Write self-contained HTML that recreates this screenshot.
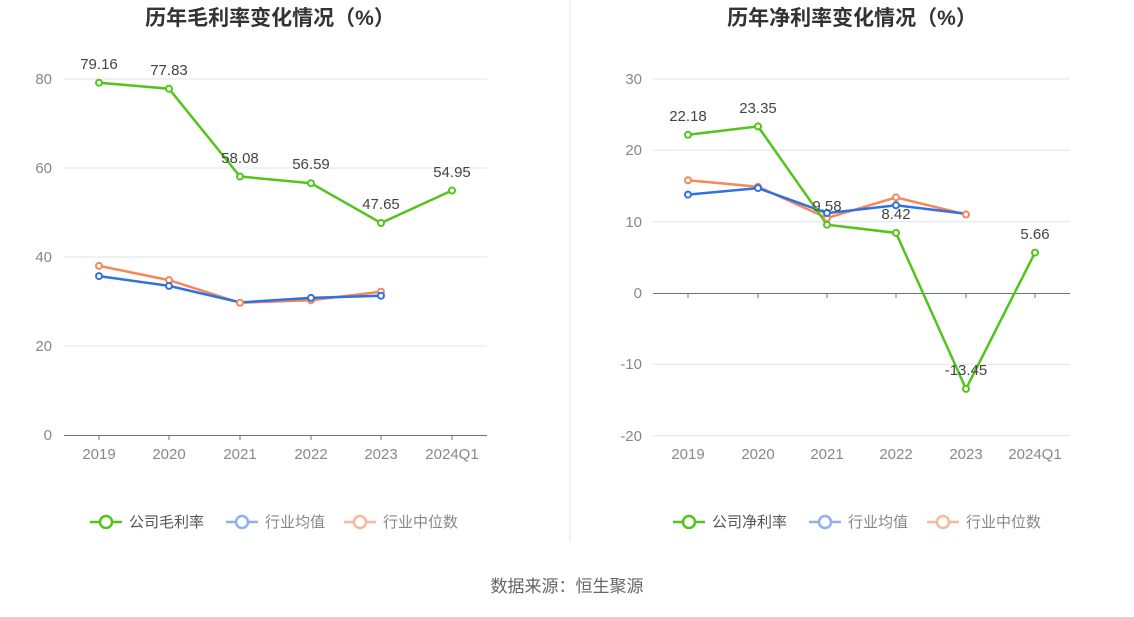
<!DOCTYPE html>
<html><head><meta charset="utf-8"><style>
body{margin:0;background:#fff;}
svg text{font-family:"Liberation Sans","Noto Sans CJK SC",sans-serif;}
</style></head><body>
<svg width="1134" height="612" xmlns="http://www.w3.org/2000/svg">
<rect width="1134" height="612" fill="#fff"/>
<line x1="570" y1="0" x2="570" y2="542" stroke="#e8e8e8"/>
<text x="270" y="25" text-anchor="middle" font-size="21" font-weight="bold" fill="#333">历年毛利率变化情况（%）</text>
<text x="852" y="25" text-anchor="middle" font-size="21" font-weight="bold" fill="#333">历年净利率变化情况（%）</text>
<!-- left grid -->
<g stroke="#e0e4ee" stroke-width="1">
<line x1="64" y1="79" x2="487" y2="79"/><line x1="64" y1="168" x2="487" y2="168"/><line x1="64" y1="257" x2="487" y2="257"/><line x1="64" y1="346" x2="487" y2="346"/>
</g>
<line x1="64" y1="435.5" x2="487" y2="435.5" stroke="#6e7079"/>
<g stroke="#6e7079"><line x1="99" y1="435" x2="99" y2="440"/><line x1="169" y1="435" x2="169" y2="440"/><line x1="240" y1="435" x2="240" y2="440"/><line x1="311" y1="435" x2="311" y2="440"/><line x1="381" y1="435" x2="381" y2="440"/><line x1="452" y1="435" x2="452" y2="440"/></g>
<g font-size="15" fill="#888" text-anchor="end">
<text x="52" y="84">80</text><text x="52" y="173">60</text><text x="52" y="262">40</text><text x="52" y="351">20</text><text x="52" y="440">0</text></g>
<g font-size="15" fill="#888" text-anchor="middle">
<text x="99" y="459">2019</text><text x="169" y="459">2020</text><text x="240" y="459">2021</text><text x="311" y="459">2022</text><text x="381" y="459">2023</text><text x="452" y="459">2024Q1</text></g>
<polyline fill="none" stroke="#f5875a" stroke-width="2.5" points="99,265.9 169,280.1 240,302.8 311,300.2 381,291.7"/>
<polyline fill="none" stroke="#3170e0" stroke-width="2.5" points="99,276.1 169,285.9 240,302.4 311,297.9 381,295.7"/>
<polyline fill="none" stroke="#52c41a" stroke-width="2.5" points="99,82.7 169,88.7 240,176.5 311,183.2 381,223 452,190.5"/>
<g fill="#fff" stroke-width="2">
<g stroke="#f5875a"><circle cx="99" cy="265.9" r="3"/><circle cx="169" cy="280.1" r="3"/><circle cx="240" cy="302.8" r="3"/><circle cx="311" cy="300.2" r="3"/><circle cx="381" cy="291.7" r="3"/></g>
<g stroke="#3170e0"><circle cx="99" cy="276.1" r="3"/><circle cx="169" cy="285.9" r="3"/><circle cx="311" cy="297.9" r="3"/><circle cx="381" cy="295.7" r="3"/></g>
<g stroke="#52c41a"><circle cx="99" cy="82.7" r="3"/><circle cx="169" cy="88.7" r="3"/><circle cx="240" cy="176.5" r="3"/><circle cx="311" cy="183.2" r="3"/><circle cx="381" cy="223" r="3"/><circle cx="452" cy="190.5" r="3"/></g>
</g>
<g font-size="15" fill="#444" text-anchor="middle">
<text x="99" y="69">79.16</text><text x="169" y="75">77.83</text><text x="240" y="163">58.08</text><text x="311" y="169">56.59</text><text x="381" y="209">47.65</text><text x="452" y="177">54.95</text></g>
<!-- right grid -->
<g stroke="#e0e4ee"><line x1="653" y1="79" x2="1070" y2="79"/><line x1="653" y1="150.3" x2="1070" y2="150.3"/><line x1="653" y1="221.7" x2="1070" y2="221.7"/><line x1="653" y1="364.3" x2="1070" y2="364.3"/><line x1="653" y1="435.7" x2="1070" y2="435.7"/></g>
<line x1="653" y1="293.5" x2="1070" y2="293.5" stroke="#6e7079"/>
<g stroke="#6e7079"><line x1="688" y1="293" x2="688" y2="298"/><line x1="758" y1="293" x2="758" y2="298"/><line x1="827" y1="293" x2="827" y2="298"/><line x1="896" y1="293" x2="896" y2="298"/><line x1="966" y1="293" x2="966" y2="298"/><line x1="1035" y1="293" x2="1035" y2="298"/></g>
<g font-size="15" fill="#888" text-anchor="end">
<text x="642" y="84">30</text><text x="642" y="155">20</text><text x="642" y="227">10</text><text x="642" y="298">0</text><text x="642" y="369">-10</text><text x="642" y="441">-20</text></g>
<g font-size="15" fill="#888" text-anchor="middle">
<text x="688" y="459">2019</text><text x="758" y="459">2020</text><text x="827" y="459">2021</text><text x="896" y="459">2022</text><text x="966" y="459">2023</text><text x="1035" y="459">2024Q1</text></g>
<polyline fill="none" stroke="#f5875a" stroke-width="2.5" points="688,180.3 758,186.7 827,218.1 896,197.4 966,214.5"/>
<polyline fill="none" stroke="#3170e0" stroke-width="2.5" points="688,194.6 758,188.1 827,213.1 896,205.3 966,213.8"/>
<polyline fill="none" stroke="#52c41a" stroke-width="2.5" points="688,134.8 758,126.4 827,224.7 896,232.9 966,388.9 1035,252.6"/>
<g fill="#fff" stroke-width="2">
<g stroke="#f5875a"><circle cx="688" cy="180.3" r="3"/><circle cx="758" cy="186.7" r="3"/><circle cx="827" cy="218.1" r="3"/><circle cx="896" cy="197.4" r="3"/><circle cx="966" cy="214.5" r="3"/></g>
<g stroke="#3170e0"><circle cx="688" cy="194.6" r="3"/><circle cx="758" cy="188.1" r="3"/><circle cx="827" cy="213.1" r="3"/><circle cx="896" cy="205.3" r="3"/></g>
<g stroke="#52c41a"><circle cx="688" cy="134.8" r="3"/><circle cx="758" cy="126.4" r="3"/><circle cx="827" cy="224.7" r="3"/><circle cx="896" cy="232.9" r="3"/><circle cx="966" cy="388.9" r="3"/><circle cx="1035" cy="252.6" r="3"/></g>
</g>
<g font-size="15" fill="#444" text-anchor="middle">
<text x="688" y="121">22.18</text><text x="758" y="113">23.35</text><text x="827" y="211">9.58</text><text x="896" y="219">8.42</text><text x="966" y="375">-13.45</text><text x="1035" y="239">5.66</text></g>
<!-- legends -->
<g font-size="15" fill="#555">
<line x1="90" y1="522" x2="122" y2="522" stroke="#52c41a" stroke-width="2.5"/><circle cx="106" cy="522" r="6" fill="#fff" stroke="#52c41a" stroke-width="2.5"/><text x="129" y="527">公司毛利率</text>
<line x1="226" y1="522" x2="258" y2="522" stroke="#8fb0f0" stroke-width="2.5"/><circle cx="242" cy="522" r="6" fill="#fff" stroke="#8fb0f0" stroke-width="2.5"/><text x="265" y="527" fill="#888">行业均值</text>
<line x1="344" y1="522" x2="376" y2="522" stroke="#f8b89e" stroke-width="2.5"/><circle cx="360" cy="522" r="6" fill="#fff" stroke="#f8b89e" stroke-width="2.5"/><text x="383" y="527" fill="#888">行业中位数</text>
<line x1="673" y1="522" x2="705" y2="522" stroke="#52c41a" stroke-width="2.5"/><circle cx="689" cy="522" r="6" fill="#fff" stroke="#52c41a" stroke-width="2.5"/><text x="712" y="527">公司净利率</text>
<line x1="809" y1="522" x2="841" y2="522" stroke="#8fb0f0" stroke-width="2.5"/><circle cx="825" cy="522" r="6" fill="#fff" stroke="#8fb0f0" stroke-width="2.5"/><text x="848" y="527" fill="#888">行业均值</text>
<line x1="927" y1="522" x2="959" y2="522" stroke="#f8b89e" stroke-width="2.5"/><circle cx="943" cy="522" r="6" fill="#fff" stroke="#f8b89e" stroke-width="2.5"/><text x="966" y="527" fill="#888">行业中位数</text>
</g>
<text x="567" y="592" text-anchor="middle" font-size="17" fill="#666">数据来源：恒生聚源</text>
</svg>
</body></html>
